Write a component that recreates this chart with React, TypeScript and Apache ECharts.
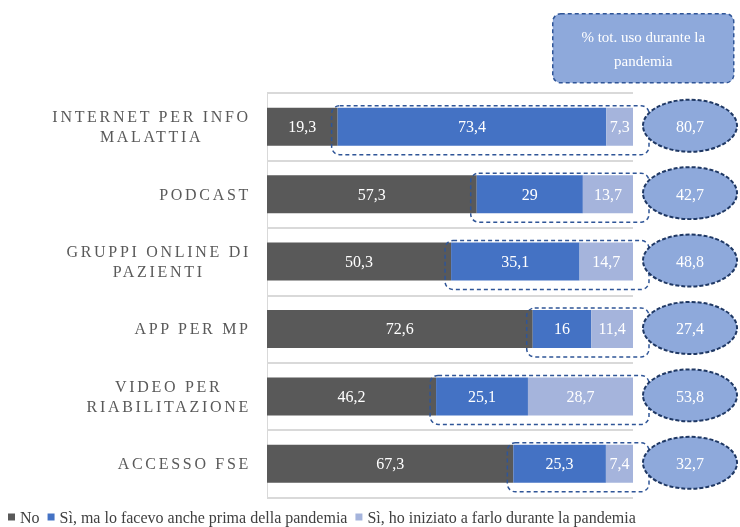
import React, { useEffect, useRef } from 'react';
import * as echarts from 'echarts';

const categories = [
  'INTERNET PER INFO\nMALATTIA',
  'PODCAST',
  'GRUPPI ONLINE DI\nPAZIENTI',
  'APP PER MP',
  'VIDEO PER\nRIABILITAZIONE',
  'ACCESSO FSE',
];
const seriesNames = [
  'No',
  'Sì, ma lo facevo anche prima della pandemia',
  'Sì, ho iniziato a farlo durante la pandemia',
];
const noValues = [19.3, 57.3, 50.3, 72.6, 46.2, 67.3];
const yesBefore = [73.4, 29, 35.1, 16, 25.1, 25.3];
const yesDuring = [7.3, 13.7, 14.7, 11.4, 28.7, 7.4];
const totalDuring = [80.7, 42.7, 48.8, 27.4, 53.8, 32.7];
const headerText = '% tot. uso durante la\npandemia';

const LABEL_FONT = 'Times New Roman, Liberation Serif';
const SERIF = 'Liberation Serif';
const LS = 2.7;

let platformSet = false;
function setupMeasure() {
  if (platformSet) return;
  platformSet = true;
  const c = document.createElement('canvas');
  const ctx = c.getContext('2d') as CanvasRenderingContext2D;
  let cached = '';
  (echarts as any).setPlatformAPI({
    measureText(text: string, font?: string) {
      const f = font || '12px sans-serif';
      if (cached !== f) {
        ctx.font = f;
        cached = f;
      }
      const m = ctx.measureText(text);
      const extra = f.indexOf('Times New Roman') >= 0 ? LS * text.length : 0;
      return {
        width: m.width + extra,
        actualBoundingBoxAscent: m.actualBoundingBoxAscent,
        actualBoundingBoxDescent: m.actualBoundingBoxDescent,
        actualBoundingBoxLeft: m.actualBoundingBoxLeft,
        actualBoundingBoxRight: m.actualBoundingBoxRight + extra,
        fontBoundingBoxAscent: (m as any).fontBoundingBoxAscent,
        fontBoundingBoxDescent: (m as any).fontBoundingBoxDescent,
      };
    },
  });
}

const fmt = (v: number) => String(v).replace('.', ',');

export default function App() {
  const ref = useRef<HTMLDivElement>(null);
  useEffect(() => {
    setupMeasure();
    const chart = echarts.init(ref.current!, undefined, { renderer: 'svg' });
    const colors = ['#595959', '#4472C4', '#A5B4DC'];
    const values = [noValues, yesBefore, yesDuring];
    const barSeries = seriesNames.map((name, i) => ({
      name,
      type: 'bar',
      stack: 'total',
      barWidth: 38,
      itemStyle: { color: colors[i] },
      label: {
        show: true,
        position: 'inside',
        color: '#ffffff',
        fontFamily: SERIF,
        fontSize: 16,
        formatter: (p: any) => fmt(p.value),
      },
      data: values[i],
    }));
    const annotData = noValues.map((v, i) => [v, 100, i, totalDuring[i]]);
    chart.setOption({
      animation: false,
      grid: { left: 267, right: 107, top: 93, bottom: 29.5, outerBoundsMode: 'none' },
      legend: {
        data: seriesNames,
        left: 8,
        top: 509,
        padding: 0,
        icon: 'rect',
        itemWidth: 7,
        itemHeight: 7,
        itemGap: 8,
        textStyle: { fontFamily: SERIF, fontSize: 16, color: '#404040' },
      },
      xAxis: { type: 'value', min: 0, max: 100, show: false },
      yAxis: {
        type: 'category',
        data: categories,
        inverse: true,
        axisTick: { show: false },
        axisLine: { show: true, lineStyle: { color: '#d9d9d9', width: 1 } },
        splitLine: { show: true, lineStyle: { color: '#d9d9d9', width: 2 } },
        axisLabel: {
          margin: 16,
          fontFamily: LABEL_FONT,
          fontSize: 16,
          lineHeight: 20,
          color: '#595959',
          formatter: (v: string) => v.split('\n').map((s) => `{c|${s}}`).join('\n'),
          rich: {
            c: { align: 'center', fontFamily: LABEL_FONT, fontSize: 16, lineHeight: 20, color: '#595959' },
          },
        },
      },
      series: [
        ...barSeries,
        {
          type: 'custom',
          name: 'annot',
          z: 5,
          silent: true,
          encode: { x: 0, y: 2 },
          data: annotData,
          renderItem: (params: any, api: any) => {
            const idx = api.value(2);
            const start = api.coord([api.value(0), idx]);
            const end = api.coord([api.value(1), idx]);
            const cy = start[1];
            const x0 = start[0] - 6;
            const x1 = end[0] + 16;
            const ex = end[0] + 57;
            return {
              type: 'group',
              children: [
                {
                  type: 'rect',
                  shape: { x: x0, y: cy - 21, width: x1 - x0, height: 49, r: 8 },
                  style: { fill: 'none', stroke: '#2F5597', lineWidth: 1.5, lineDash: [4, 3] },
                },
                {
                  type: 'ellipse',
                  shape: { cx: ex, cy: cy - 1, rx: 47, ry: 26 },
                  style: { fill: '#8EA9DB', stroke: '#1F3864', lineWidth: 2, lineDash: [4, 2] },
                },
                {
                  type: 'text',
                  x: ex,
                  y: cy,
                  style: {
                    text: fmt(api.value(3)),
                    fill: '#ffffff',
                    fontFamily: SERIF,
                    fontSize: 16,
                    align: 'center',
                    verticalAlign: 'middle',
                    textAlign: 'center',
                    textVerticalAlign: 'middle',
                  },
                },
              ],
            };
          },
        },
      ],
      graphic: [
        {
          type: 'group',
          left: 552,
          top: 13,
          children: [
            {
              type: 'rect',
              shape: { x: 0, y: 0, width: 181, height: 69, r: 8 },
              style: { fill: '#8EA9DB', stroke: '#2F5597', lineWidth: 1.5, lineDash: [4, 3] },
            },
            {
              type: 'text',
              x: 90.5,
              y: 35,
              style: {
                text: headerText,
                fill: '#ffffff',
                fontFamily: SERIF,
                fontSize: 15,
                lineHeight: 24,
                align: 'center',
                verticalAlign: 'middle',
              },
            },
          ],
        },
      ],
    } as any);
    return () => chart.dispose();
  }, []);
  return (
    <>
      <style>{'text[style*="Times New Roman"]{letter-spacing:' + LS + 'px}'}</style>
      <div ref={ref} style={{ position: 'fixed', left: 0, top: 0, width: 740, height: 527 }} />
    </>
  );
}
